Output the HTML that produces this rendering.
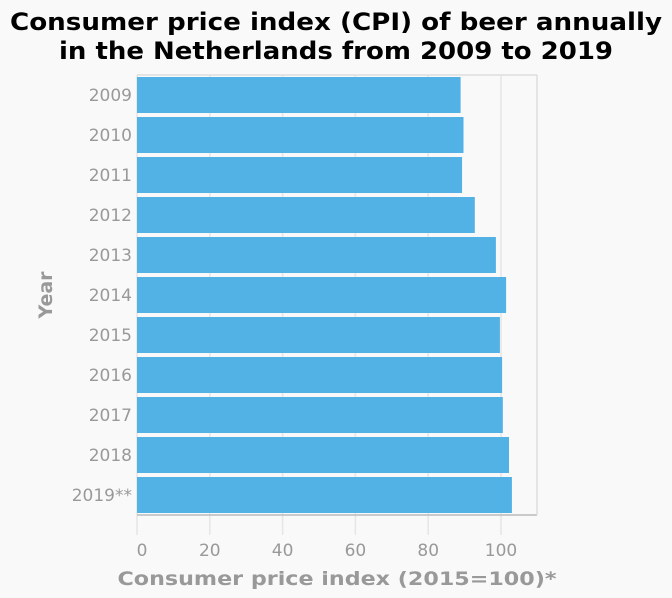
<!DOCTYPE html>
<html><head><meta charset="utf-8"><style>
body{margin:0;background:#f9f9f9;}
svg{display:block;font-family:"DejaVu Sans","Liberation Sans",sans-serif;}
</style></head><body>
<svg id="c" width="672" height="598">
<rect width="672" height="598" fill="#f9f9f9"/>
<text x="336" y="30" text-anchor="middle" font-size="24" font-weight="bold" fill="#000" textLength="652" lengthAdjust="spacingAndGlyphs">Consumer price index (CPI) of beer annually</text>
<text x="336" y="59" text-anchor="middle" font-size="24" font-weight="bold" fill="#000" textLength="554" lengthAdjust="spacingAndGlyphs">in the Netherlands from 2009 to 2019</text>
<g id="grid"></g><g id="bars"></g><g id="ylabels"></g><g id="xticks"></g>
<line x1="137" y1="515" x2="537" y2="515" stroke="#bbb" stroke-width="1.5"/>
<line x1="537" y1="75" x2="537" y2="515" stroke="#ddd" stroke-width="1.5"/>
<line x1="137" y1="75" x2="537" y2="75" stroke="#ddd" stroke-width="1.5"/>
<text x="337" y="585" text-anchor="middle" font-size="19" font-weight="bold" fill="#999" textLength="439" lengthAdjust="spacingAndGlyphs">Consumer price index (2015=100)*</text>
<text transform="translate(52,295) rotate(-90)" text-anchor="middle" font-size="19" font-weight="bold" fill="#999">Year</text>
</svg>
<script>
const categories=["2009","2010","2011","2012","2013","2014","2015","2016","2017","2018","2019**"];
const values=[88.9,89.7,89.3,92.8,98.6,101.4,99.7,100.3,100.5,102.2,103.0];
const xTicks=[0,20,40,60,80,100];
const ns="http://www.w3.org/2000/svg";
const x0=137,xScale=3.64,top0=75,band=40,gap=4;
const X=v=>x0+v*xScale;
const Y=i=>top0+i*band;
function mk(t,a,p){const e=document.createElementNS(ns,t);for(const k in a)e.setAttribute(k,a[k]);p.appendChild(e);return e;}
const g=document.getElementById('grid'),b=document.getElementById('bars'),yl=document.getElementById('ylabels'),xt=document.getElementById('xticks');
xTicks.forEach(t=>{
 const l=mk('line',{x1:X(t),y1:top0,x2:X(t),y2:535,stroke:'#e6e6e6','stroke-width':1.5},g);
 
 
 const tx=mk('text',{x:X(t)+(t===0?5:0),y:556,'text-anchor':'middle','font-size':17,fill:'#999'},xt);
 tx.textContent=t;
 
 
});
categories.forEach((c,i)=>{
 const r=mk('rect',{x:x0,y:Y(i)+gap/2,width:X(values[i])-x0,height:band-gap,fill:'#52b2e5'},b);
 
 
 const t=mk('text',{x:132,y:Y(i)+band/2+6,'text-anchor':'end','font-size':17,fill:'#999'},yl);
 t.textContent=c;
 
 
});
</script>
</body></html>
